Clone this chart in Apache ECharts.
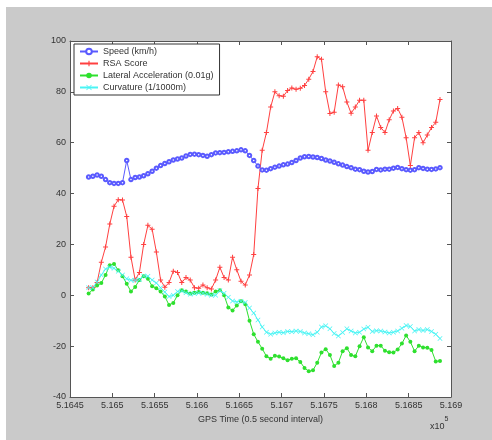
<!DOCTYPE html>
<html>
<head>
<meta charset="utf-8">
<script src="https://cdn.jsdelivr.net/npm/echarts@6/dist/echarts.min.js"></script>
<style>
html, body { margin: 0; padding: 0; background: #fff; }
#chart { width: 492px; height: 440px; }
</style>
</head>
<body>
<div id="chart"></div>
<script>
// GPS time stamps (raw units, axis shows them x10^5)
var gpsTime = [
    516472, 516477, 516482, 516487, 516492, 516497, 516502, 516507, 516512, 516517,
    516522, 516527, 516532, 516537, 516542, 516547, 516552, 516557, 516562, 516567,
    516572, 516577, 516582, 516587, 516592, 516597, 516602, 516607, 516612, 516617,
    516622, 516627, 516632, 516637, 516642, 516647, 516652, 516657, 516662, 516667,
    516672, 516677, 516682, 516687, 516692, 516697, 516702, 516707, 516712, 516717,
    516722, 516727, 516732, 516737, 516742, 516747, 516752, 516757, 516762, 516767,
    516772, 516777, 516782, 516787, 516792, 516797, 516802, 516807, 516812, 516817,
    516822, 516827, 516832, 516837, 516842, 516847, 516852, 516857, 516862, 516867,
    516872, 516877, 516882, 516887
];

var speed = [
    46.5, 46.8, 47.3, 46.8, 45.5, 44.3, 44.0, 44.0, 44.3, 53.0,
    45.5, 46.3, 46.5, 47.0, 47.8, 48.8, 50.0, 51.0, 51.8, 52.5,
    53.2, 53.6, 54.0, 54.8, 55.4, 55.5, 55.3, 55.0, 54.7, 55.3,
    56.0, 56.1, 56.2, 56.4, 56.6, 56.8, 57.2, 56.8, 55.0, 53.0,
    50.8, 49.3, 49.2, 49.8, 50.4, 50.8, 51.3, 51.6, 52.2, 53.0,
    54.0, 54.5, 54.6, 54.4, 54.2, 53.8, 53.2, 52.8, 52.3, 51.7,
    51.2, 50.6, 50.2, 49.6, 49.4, 48.8, 48.5, 48.7, 49.5, 49.3,
    49.6, 49.6, 50.0, 50.3, 49.8, 49.4, 49.2, 49.4, 50.2, 49.9,
    49.6, 49.5, 49.7, 50.2
];

var rsaScore = [
    3, 3, 5, 13, 19, 28, 35, 37.6, 37.5, 31,
    15, 6, 9, 20, 27.5, 26, 17, 6, 3.2, 5,
    9.5, 9, 5, 7, 6, 3, 2.8, 4, 3, 2.5,
    6, 11, 7, 6, 15, 10, 5.5, 4, 8, 16,
    42, 57, 64, 74, 80, 78.5, 78.3, 80.5, 81.5, 81,
    81.4, 82.5, 85, 88, 93.8, 92.8, 80, 71.5, 72, 82.7,
    82, 76, 71.6, 74, 76.7, 76.7, 57, 64, 70.5, 66,
    64, 69, 72.5, 73.5, 70, 62, 51, 62, 64, 60,
    63, 66, 68, 77
];

var lateralAcc = [
    0.7, 2.3, 3.8, 4.8, 8, 11.8, 12.3, 9.8, 7.5, 4.5,
    1.5, 3.3, 6, 7.5, 6.5, 3.6, 2.8, 1.5, -0.5, -3.8,
    -3, 0, 2, 1.5, 0.7, 1, 1.3, 1, 0.8, 0.3,
    1.5, 2, 0, -4.8, -6, -4, -2.3, -3.5, -10, -15.3,
    -18.3, -21, -24, -25, -23.8, -24.1, -24.8, -25.5, -25, -24.8,
    -26.2, -28.6, -29.9, -29.5, -26.5, -22.5, -21.2, -23.5, -27.8, -26.5,
    -22, -20.8, -23.5, -24, -20, -16.5, -20.5, -22, -19.8, -19.8,
    -21.8, -22.4, -22.5, -21.3, -19, -15.8, -18.3, -22, -19.8, -20.5,
    -20.6, -21.5, -26, -25.8
];

var curvature = [
    3, 3, 5.2, 8, 10.3, 11, 10.6, 9.5, 8, 6.5,
    5.9, 5.9, 6.2, 7.6, 7.5, 6, 4.8, 3, 1.3, -0.5,
    0, 1.5, 1.7, 1, 0.4, 0.7, 0.9, 0.8, 0.4, 0,
    0, 1.8, 0.8, -0.8, -2.2, -2.6, -2.3, -2.8, -5, -7,
    -9.7, -12.5, -14.5, -15.3, -14.8, -14.5, -14.7, -14.2, -14.3, -14,
    -14.2, -14.8, -15.1, -15.5, -14.5, -12.5, -12, -13.2, -15, -16,
    -14.6, -13.2, -14, -14.8, -14.5, -13.3, -12.6, -14.2, -13.9, -14,
    -14.4, -14.8, -14.5, -14, -13, -11.9, -12.3, -14, -13.5, -13.8,
    -13.5, -14.2, -15.3, -17
];

var xTicks = { min: 516450, max: 516900, interval: 50 };
var yTicks = { min: -40, max: 100, interval: 20 };

function pairs(vals) {
    return vals.map(function (v, i) { return [gpsTime[i], v]; });
}

var chart = echarts.init(document.getElementById('chart'), null, { renderer: 'canvas' });

var font = 'Liberation Sans, Arial, sans-serif';
var axisCol = '#555';
var plusPath = 'path://M4,0h2v4h4v2h-4v4h-2v-4h-4v-2h4z';
var crossPath = 'path://M1,0L5,4L9,0L10,1L6,5L10,9L9,10L5,6L1,10L0,9L4,5L0,1z';

var option = {
    animation: false,
    backgroundColor: '#fff',
    textStyle: { fontFamily: font },
    graphic: [
        { type: 'rect', z: -10, silent: true, shape: { x: 6, y: 7, width: 486, height: 433 }, style: { fill: '#cacaca' } },
        { type: 'rect', z: -9, silent: true, shape: { x: 70, y: 41, width: 381, height: 356 }, style: { fill: '#fff' } },
        {
            type: 'text', left: 430, top: 416, silent: true,
            style: {
                text: '{a|x10}{b|5}', fill: '#333',
                rich: {
                    a: { fontSize: 9, fontFamily: font, fill: '#333', padding: [6, 0, 0, 0] },
                    b: { fontSize: 7, fontFamily: font, fill: '#333', verticalAlign: 'top' }
                }
            }
        }
    ],
    grid: { left: 70, right: 41, top: 41, bottom: 43, containLabel: false },
    legend: {
        orient: 'vertical',
        left: 74, top: 44,
        itemWidth: 18, itemHeight: 7, itemGap: 3,
        padding: [3, 6, 3, 5],
        borderColor: '#333', borderWidth: 1,
        backgroundColor: '#fff',
        textStyle: { fontSize: 9, color: '#333', fontFamily: font },
        data: ['Speed (km/h)', 'RSA Score', 'Lateral Acceleration (0.01g)', 'Curvature (1/1000m)']
    },
    xAxis: [{
        type: 'value',
        min: xTicks.min, max: xTicks.max, interval: xTicks.interval,
        name: 'GPS Time (0.5 second interval)',
        nameLocation: 'middle', nameGap: 16,
        nameTextStyle: { fontSize: 9, color: '#333', fontFamily: font },
        axisLine: { onZero: false, lineStyle: { color: axisCol, width: 1 } },
        axisTick: { inside: true, length: 4, lineStyle: { color: axisCol } },
        axisLabel: {
            fontSize: 9, color: '#333', margin: 4, showMinLabel: true, showMaxLabel: true,
            formatter: function (v) { return String(+(v / 1e5).toFixed(4)); }
        },
        splitLine: { show: false }
    }, {
        type: 'value', position: 'top',
        min: xTicks.min, max: xTicks.max, interval: xTicks.interval,
        axisLine: { onZero: false, lineStyle: { color: axisCol, width: 1 } },
        axisTick: { inside: true, length: 4, lineStyle: { color: axisCol } },
        axisLabel: { show: false },
        splitLine: { show: false }
    }],
    yAxis: [{
        type: 'value',
        min: yTicks.min, max: yTicks.max, interval: yTicks.interval,
        axisLine: { show: true, onZero: false, lineStyle: { color: axisCol, width: 1 } },
        axisTick: { show: true, inside: true, length: 4, lineStyle: { color: axisCol } },
        axisLabel: { fontSize: 9, color: '#333', margin: 4 },
        splitLine: { show: false }
    }, {
        type: 'value', position: 'right',
        min: yTicks.min, max: yTicks.max, interval: yTicks.interval,
        axisLine: { show: true, onZero: false, lineStyle: { color: axisCol, width: 1 } },
        axisTick: { show: true, inside: true, length: 4, lineStyle: { color: axisCol } },
        axisLabel: { show: false },
        splitLine: { show: false }
    }],
    series: [{
        name: 'Speed (km/h)',
        type: 'line',
        data: pairs(speed),
        symbol: 'emptyCircle', symbolSize: 3.5,
        lineStyle: { color: '#5a5aff', width: 1 },
        itemStyle: { color: '#5a5aff', borderWidth: 1 }
    }, {
        name: 'RSA Score',
        type: 'line',
        data: pairs(rsaScore),
        symbol: plusPath, symbolSize: 5,
        lineStyle: { color: '#ff4040', width: 1 },
        itemStyle: { color: '#ff4040' }
    }, {
        name: 'Lateral Acceleration (0.01g)',
        type: 'line',
        data: pairs(lateralAcc),
        symbol: 'circle', symbolSize: 4,
        lineStyle: { color: '#2ee02e', width: 1 },
        itemStyle: { color: '#2ee02e' }
    }, {
        name: 'Curvature (1/1000m)',
        type: 'line',
        data: pairs(curvature),
        symbol: crossPath, symbolSize: 5,
        lineStyle: { color: '#4af4f4', width: 1 },
        itemStyle: { color: '#4af4f4' }
    }]
};

chart.setOption(option);
</script>
</body>
</html>
